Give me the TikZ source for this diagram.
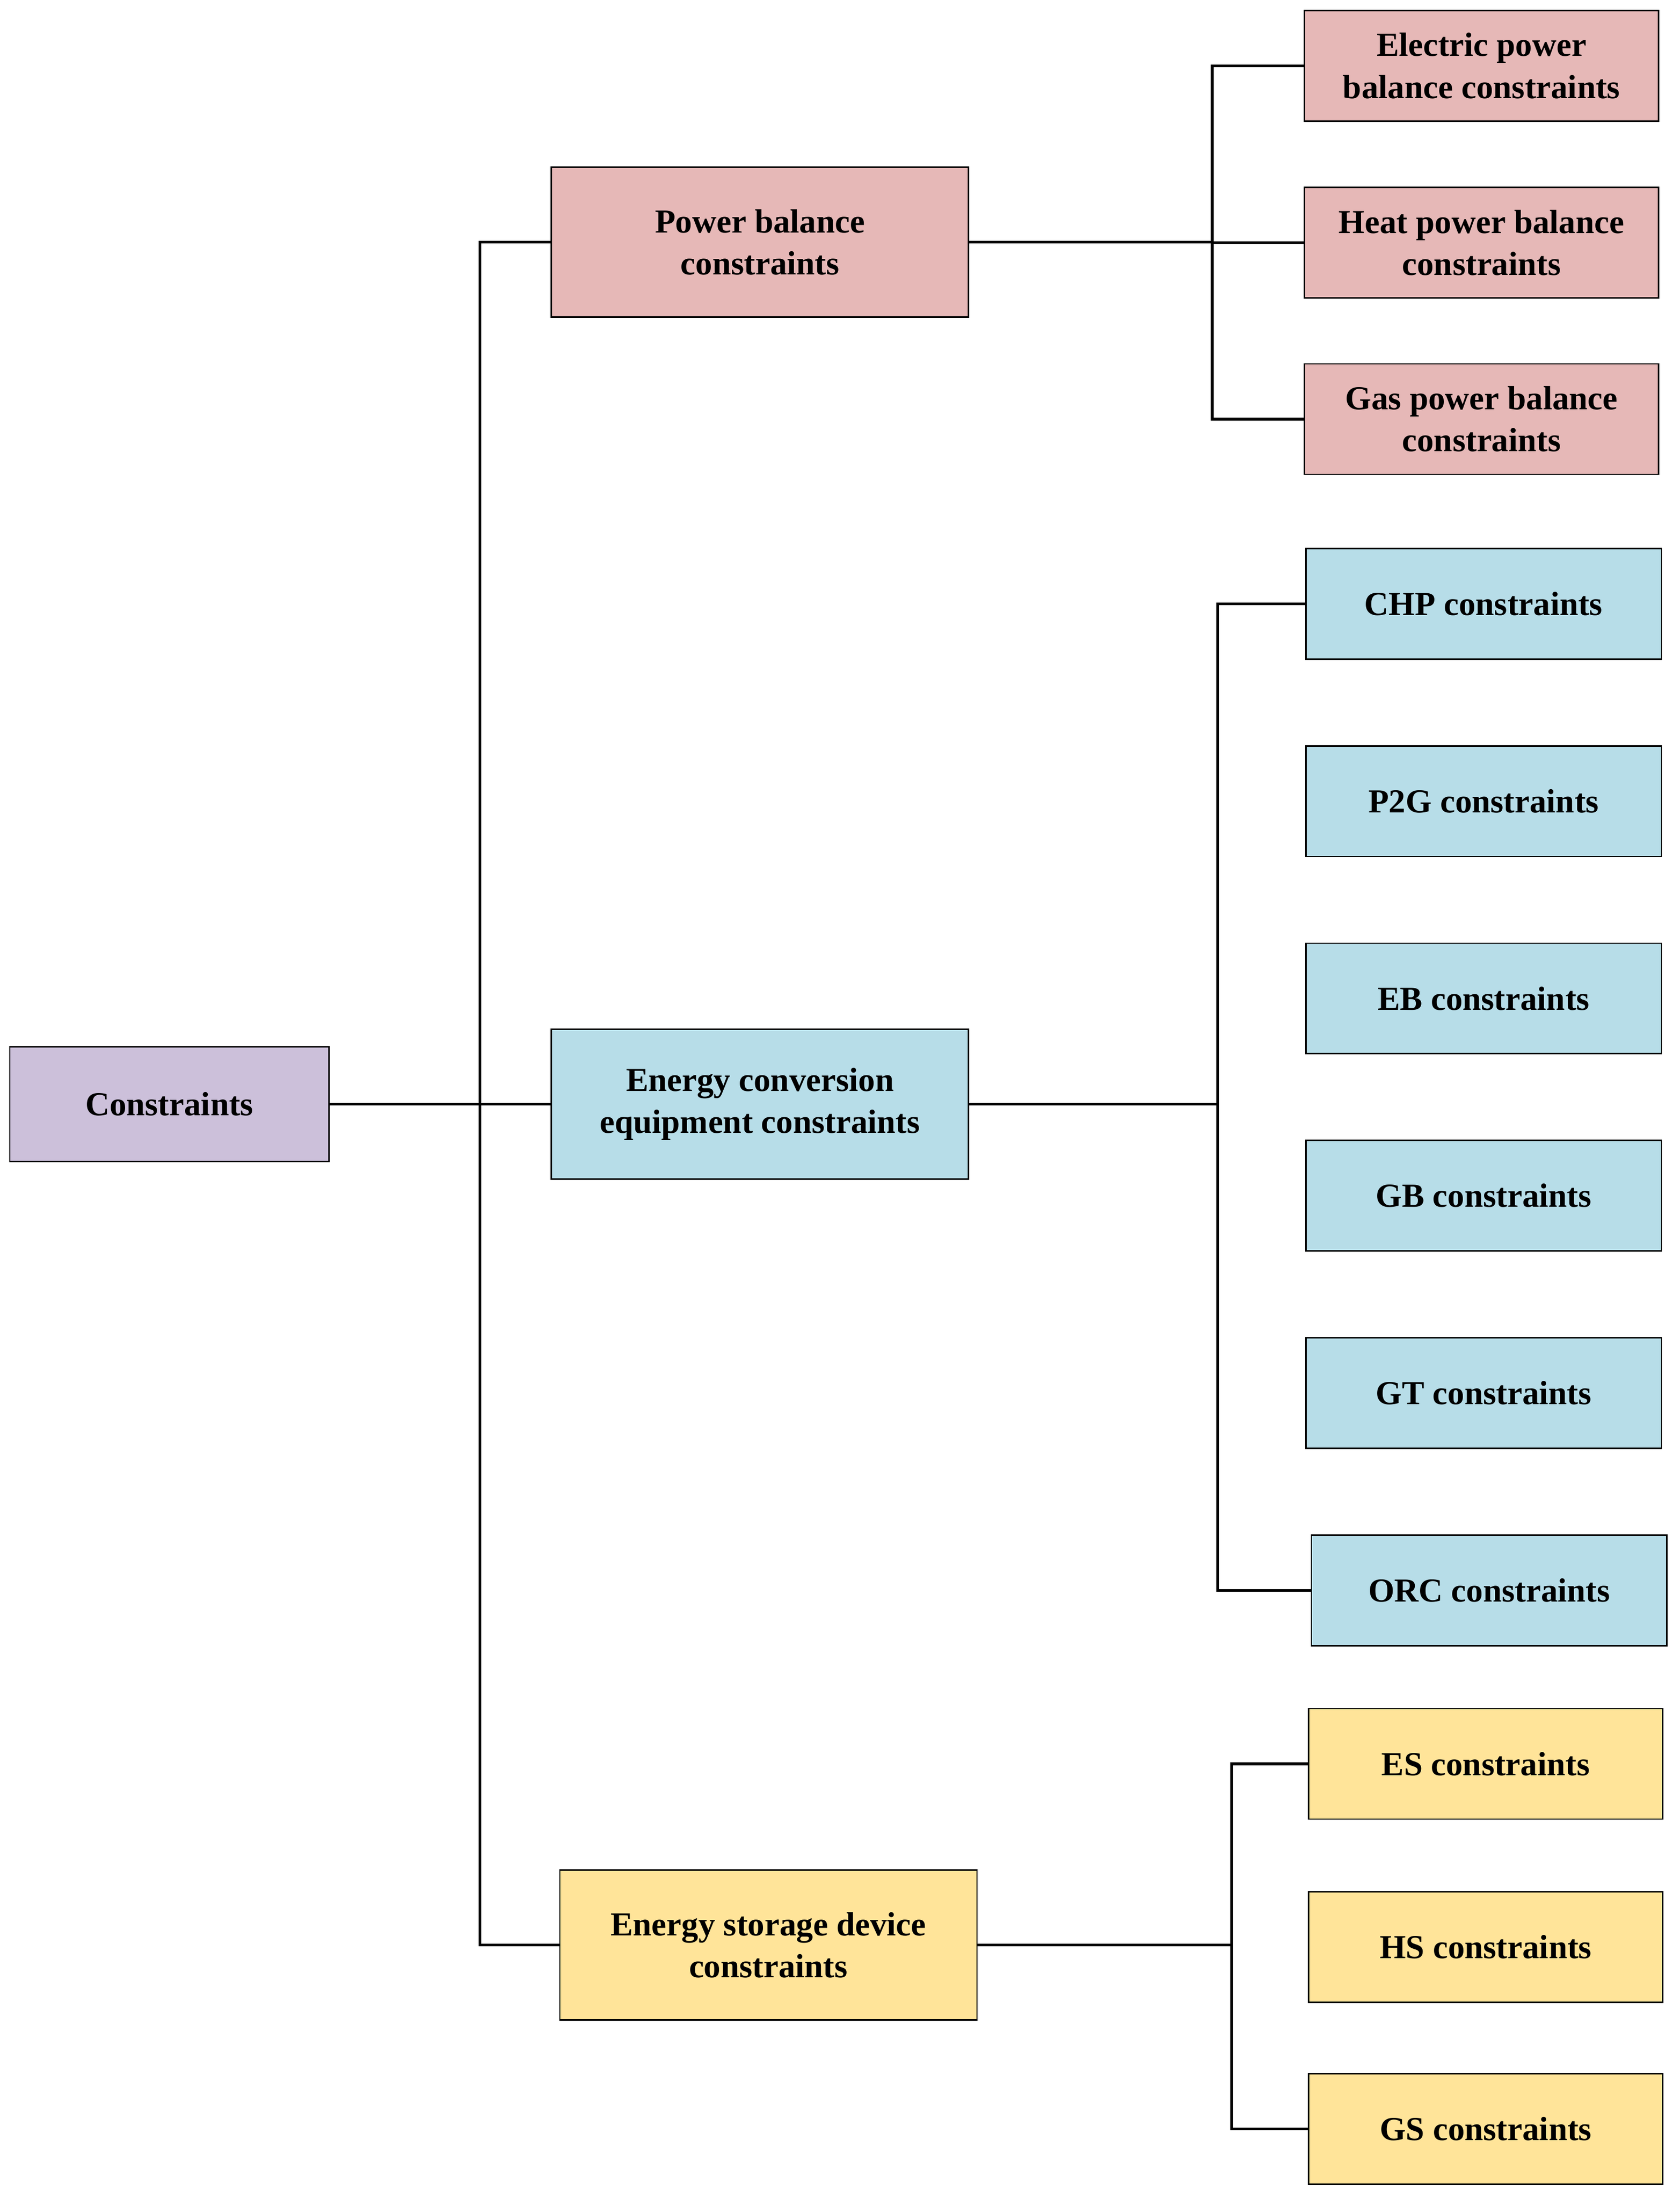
\documentclass[tikz,border=0pt]{standalone}
\usepackage{fontspec}
\setmainfont{Liberation Serif}
\begin{document}
\begin{tikzpicture}[x=0.5pt,y=-0.5pt,
  box/.style={draw=black,line width=0.5pt,font=\bfseries\fontsize{12}{15}\selectfont,align=center,inner sep=0pt},
  pk/.style={box,fill=pinkc},bl/.style={box,fill=bluec},yl/.style={box,fill=yelc},
  ln/.style={line width=1pt}]
\definecolor{pinkc}{HTML}{E6B8B7}\definecolor{bluec}{HTML}{B7DDE8}
\definecolor{yelc}{HTML}{FFE499}\definecolor{purc}{HTML}{CCC0DA}
\useasboundingbox (0,0) rectangle (1200,1571.5);
\newcommand\bx[6]{\node[#1,minimum width=#4*0.5pt,minimum height=#5*0.5pt] (#6) at (#2,#3) {#6text};}
\node[box,fill=purc,minimum width=114pt,minimum height=41pt] (root) at (121,789) {Constraints};
\node[pk,minimum width=149pt,minimum height=53.5pt] (pb) at (543,173) {Power balance\\constraints};
\node[bl,minimum width=149pt,minimum height=53.5pt] (ec) at (543,789) {Energy conversion\\equipment constraints};
\node[yl,minimum width=149pt,minimum height=53.5pt] (es) at (549,1390) {Energy storage device\\constraints};
\tikzset{lf/.style={minimum width=126.5pt,minimum height=39.5pt}}
\node[pk,lf] (e1) at (1058.5,47) {Electric power\\balance constraints};
\node[pk,lf] (e2) at (1058.5,173.5) {Heat power balance\\constraints};
\node[pk,lf] (e3) at (1058.5,299.5) {Gas power balance\\constraints};
\node[bl,lf,minimum width=127pt] (c1) at (1060,431.5) {CHP constraints};
\node[bl,lf,minimum width=127pt] (c2) at (1060,572.5) {P2G constraints};
\node[bl,lf,minimum width=127pt] (c3) at (1060,713.5) {EB constraints};
\node[bl,lf,minimum width=127pt] (c4) at (1060,854.5) {GB constraints};
\node[bl,lf,minimum width=127pt] (c5) at (1060,995.5) {GT constraints};
\node[bl,lf,minimum width=127pt] (c6) at (1064,1136.5) {ORC constraints};
\node[yl,lf] (s1) at (1061.5,1260.5) {ES constraints};
\node[yl,lf] (s2) at (1061.5,1391.5) {HS constraints};
\node[yl,lf] (s3) at (1061.5,1521.5) {GS constraints};
\draw[ln] (root.east) -- (343,789);
\draw[ln] (pb.west) -- (343,173) -- (343,1390) -- (es.west);
\draw[ln] (343,789) -- (ec.west);
\draw[ln] (pb.east) -- (866,173);
\draw[ln] (e1.west) -- (866,47) -- (866,299.5) -- (e3.west);
\draw[ln] (866,173.5) -- (e2.west);
\draw[ln] (ec.east) -- (870,789);
\draw[ln] (c1.west) -- (870,431.5) -- (870,1136.5) -- (c6.west);
\draw[ln] (es.east) -- (880,1390);
\draw[ln] (s1.west) -- (880,1260.5) -- (880,1521.5) -- (s3.west);
\end{tikzpicture}
\end{document}
